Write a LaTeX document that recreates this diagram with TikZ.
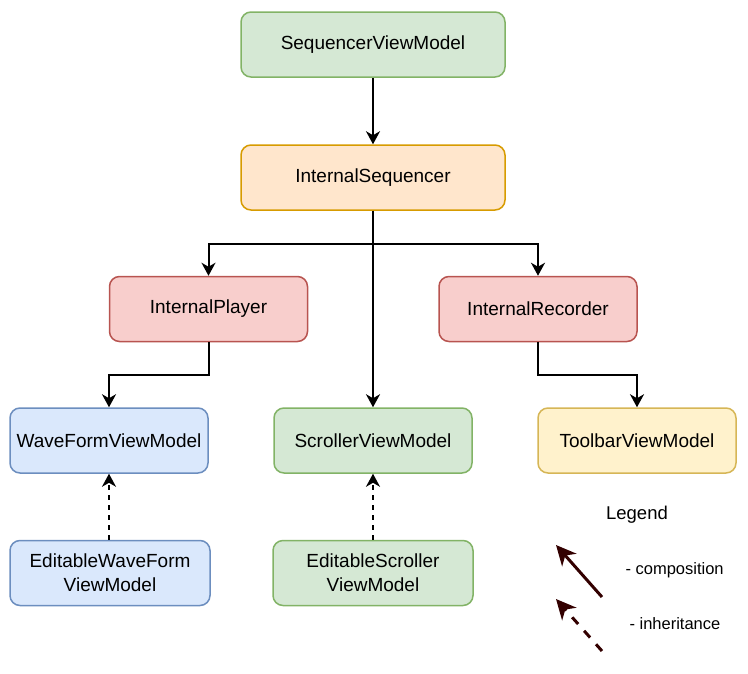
\documentclass[tikz,border=0pt]{standalone}
\usepackage{fontspec}
\setmainfont{Liberation Sans}
\usetikzlibrary{arrows.meta}
\definecolor{gfill}{HTML}{D5E8D4}\definecolor{gdraw}{HTML}{82B366}
\definecolor{ofill}{HTML}{FFE6CC}\definecolor{odraw}{HTML}{D79B00}
\definecolor{rfill}{HTML}{F8CECC}\definecolor{rdraw}{HTML}{B85450}
\definecolor{bfill}{HTML}{DAE8FC}\definecolor{bdraw}{HTML}{6C8EBF}
\definecolor{yfill}{HTML}{FFF2CC}\definecolor{ydraw}{HTML}{D6B656}
\definecolor{legcol}{HTML}{330000}
\tikzset{
  box/.style={rounded corners=10pt, line width=1.5pt, minimum height=65pt, align=center, inner sep=2pt, font=\fontsize{19}{24}\selectfont},
  wbox/.style={box, minimum width=264pt},
  nbox/.style={box, minimum width=198pt},
  gbox/.style={fill=gfill, draw=gdraw},
  obox/.style={fill=ofill, draw=odraw},
  rbox/.style={fill=rfill, draw=rdraw},
  bbox/.style={fill=bfill, draw=bdraw},
  ybox/.style={fill=yfill, draw=ydraw},
  comp/.style={line width=2pt, -{Stealth[length=13pt,width=14pt,inset=4pt]}},
  inh/.style={comp, dash pattern=on 5pt off 5pt},
  legarrow/.style={draw=legcol, line width=3pt, -{Stealth[length=20pt,width=19pt,inset=6pt]}},
  legtext/.style={font=\fontsize{16.5}{20}\selectfont, anchor=west}
}
\begin{document}
\begin{tikzpicture}[x=1pt,y=-1pt]
\useasboundingbox (0,0) rectangle (748,673);
\node[wbox,gbox] (svm) at (373,44.5) {SequencerViewModel};
\node[wbox,obox] (iseq) at (373,177.5) {InternalSequencer};
\node[nbox,rbox] (iplay) at (208.5,309) {InternalPlayer};
\node[nbox,rbox] (irec) at (538,309) {InternalRecorder};
\node[nbox,bbox] (wave) at (109,440.5) {WaveFormViewModel};
\node[nbox,gbox] (scroll) at (373,440.5) {ScrollerViewModel};
\node[nbox,ybox] (tool) at (637,440.5) {ToolbarViewModel};
\node[nbox,bbox,minimum width=200pt] (ewave) at (110,573) {EditableWaveForm\\ViewModel};
\node[nbox,gbox,minimum width=200pt] (escroll) at (373,573) {EditableScroller\\ViewModel};

\draw[comp] (svm) -- (iseq);
\draw[comp] (iseq.south) -- ++(0,33) -| (iplay.north);
\draw[comp] (iseq.south) -- ++(0,33) -| (irec.north);
\draw[comp] (iseq) -- (scroll);
\draw[comp] (iplay.south) -- ++(0,33) -| (wave.north);
\draw[comp] (irec.south) -- ++(0,33) -| (tool.north);
\draw[inh] (ewave.north -| wave.south) -- (wave.south);
\draw[inh] (escroll) -- (scroll);

\node[font=\fontsize{18.5}{22}\selectfont] (leg) at (637,515) {Legend};
\coordinate (c1) at (602,597); \coordinate (c2) at (556,545);
\coordinate (d1) at (602,651); \coordinate (d2) at (556,599);
\draw[legarrow] (c1) -- (c2);
\draw[legarrow, dash pattern=on 9pt off 9pt] (d1) -- (d2);
\node[legtext] (lc) at (622,570) {- composition};
\node[legtext] (li) at (626,624) {- inheritance};
\end{tikzpicture}
\end{document}
